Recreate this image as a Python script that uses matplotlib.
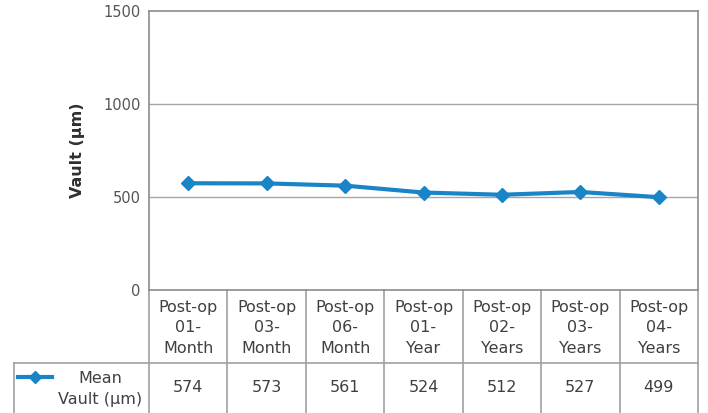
import numpy as np
import matplotlib.pyplot as plt

# データ
periods = ["Post-op\n01-\nMonth", "Post-op\n03-\nMonth", "Post-op\n06-\nMonth",
           "Post-op\n01-\nYear", "Post-op\n02-\nYears", "Post-op\n03-\nYears",
           "Post-op\n04-\nYears"]
mean_vault = [574, 573, 561, 524, 512, 527, 499]
series_name = "Mean\nVault (μm)"
y_ticks = [0, 500, 1000, 1500]

line_col = "#1a85c6"
grid_col = "#a6a6a6"
text_col = "#404040"

plt.rcParams['font.family'] = ['DejaVu Sans']

fig = plt.figure(figsize=(7.08, 4.13), dpi=100)
ax = fig.add_axes([149/708, 1-290/413, (698-149)/708, (290-11)/413])

x = np.arange(len(mean_vault))
ax.plot(x, mean_vault, color=line_col, lw=3, marker='D', ms=7.5, zorder=3)

ax.set_xlim(-0.5, len(x)-0.5)
ax.set_ylim(0, 1500)
ax.set_yticks(y_ticks)
ax.set_yticklabels([str(t) for t in y_ticks], color="#555555", fontsize=10.5)
ax.tick_params(axis='y', length=0, pad=6)
ax.set_xticks([])
for yv in y_ticks[1:-1]:
    ax.axhline(yv, color=grid_col, lw=1, zorder=1)
for s in ax.spines.values():
    s.set_color("#8c8c8c")
    s.set_linewidth(1.2)
ax.set_ylabel("Vault (μm)", fontsize=11.5, fontweight='bold', color="#303030", labelpad=13)

# 下のデータ表
tr = ax.get_xaxis_transform()
ph = 279.0  # axes height in px
def fy(py):
    return (290 - py) / ph

row_line = fy(363)
bot = fy(420)
left_edge = (14 - 149) / ((698-149)/7) - 0.5
lc = "#a0a0a0"
ax.plot([left_edge, len(x)-0.5], [row_line, row_line], transform=tr, color=lc, lw=1.2, clip_on=False)
ax.plot([left_edge, left_edge], [row_line, bot], transform=tr, color=lc, lw=1.2, clip_on=False)
for i in range(len(x)+1):
    ax.plot([i-0.5, i-0.5], [0, bot], transform=tr, color=lc, lw=1.2, clip_on=False)

for i, (lab, v) in enumerate(zip(periods, mean_vault)):
    ax.text(i, fy(328), lab, transform=tr, ha='center', va='center', fontsize=11.5,
            color=text_col, linespacing=1.45)
    ax.text(i, fy(388), str(v), transform=tr, ha='center', va='center', fontsize=11.5,
            color=text_col)

# 凡例
lx0 = (18 - 149) / ((698-149)/7) - 0.5
lx1 = (52 - 149) / ((698-149)/7) - 0.5
ax.plot([lx0, lx1], [fy(377), fy(377)], transform=tr, color=line_col, lw=3, clip_on=False)
ax.plot([(lx0+lx1)/2], [fy(377)], transform=tr, color=line_col, marker='D', ms=6, clip_on=False)
ax.text((100 - 149) / ((698-149)/7) - 0.5, fy(389), series_name, transform=tr, ha='center',
        va='center', fontsize=11.5, color=text_col, linespacing=1.45)

fig.savefig("out.png", dpi=100)
